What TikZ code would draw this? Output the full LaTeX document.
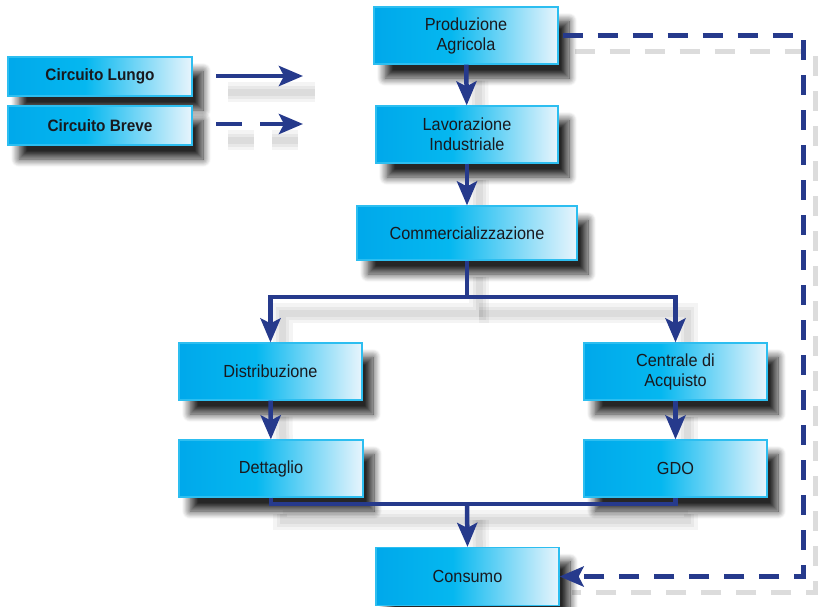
\documentclass[tikz,border=0pt]{standalone}
\usepackage{fontspec}
\setmainfont{Liberation Sans}[FakeStretch=0.93]
\usetikzlibrary{arrows.meta,shadows.blur}
\definecolor{lineblue}{RGB}{38,58,140}
\definecolor{boxedge}{RGB}{45,190,240}
\definecolor{txt}{RGB}{25,25,30}
\pgfdeclarehorizontalshading{boxshade}{100bp}{rgb(0bp)=(0,0.66,0.92); rgb(25bp)=(0,0.66,0.92); rgb(46bp)=(0.02,0.72,0.94); rgb(75bp)=(0.91,0.96,0.99); rgb(100bp)=(0.91,0.96,0.99)}
\pgfdeclarelayer{bg}
\pgfsetlayers{bg,main}
\tikzset{
  box/.style={draw=boxedge, line width=1.2pt, shading=boxshade, rectangle,
    minimum width=184pt, minimum height=57pt, inner sep=0pt, align=center,
    font=\fontsize{17.5}{20}\selectfont, text=txt,
    blur shadow={shadow xshift=11pt, shadow yshift=-14pt, shadow blur radius=8pt, shadow blur steps=10, shadow opacity=85}},
  legbox/.style={box, minimum height=39pt, font=\bfseries\fontsize{16.5}{19}\selectfont},
  conn/.style={draw=lineblue, line width=4.5pt},
  tip/.style={-{Stealth[length=24pt,width=20pt,inset=5pt]}},
  dashline/.style={line width=5pt, dash pattern=on 20pt off 15pt},
  legdash/.style={dash pattern=on 26pt off 18pt},
}
\newcommand\drawconnectors{%
  \draw[conn,tip] (prod) -- (lav);
  \draw[conn,tip] (lav) -- (comm);
  \draw[conn,tip] (comm.south) -- (split) -| (dist.north);
  \draw[conn,tip] (split) -| (cen.north);
  \draw[conn,tip] (dist) -- (det);
  \draw[conn,tip] (cen) -- (gdo);
  \draw[conn] (det.south) |- (merge) -| (gdo.south);
  \draw[conn,tip] (merge) -- (cons.north);
  \draw[conn,dashline,tip,shorten <=4pt] (prod.east) -| (fb) -- (cons.east);
  \draw[conn,tip] (l1a) -- (l1b);
  \draw[conn,legdash,tip] (l2a) -- (l2b);
}
\begin{document}
\begin{tikzpicture}[x=1pt,y=-1pt]
\useasboundingbox (0,0) rectangle (818,606);
\node[legbox] (lungo) at (100,76.5) {Circuito Lungo};
\node[legbox] (breve) at (100,125.5) {Circuito Breve};
\node[box] (prod) at (466,35.5) {Produzione\\Agricola};
\node[box, minimum width=182pt] (lav) at (467,134.5) {Lavorazione\\Industriale};
\node[box, minimum width=220pt, minimum height=54pt] (comm) at (467,233) {Commercializzazione};
\node[box, minimum width=183pt] (dist) at (270.5,371.5) {Distribuzione};
\node[box] (det) at (271,468.5) {Dettaglio};
\node[box, minimum width=183pt] (cen) at (675.5,371.5) {Centrale di\\Acquisto};
\node[box, minimum width=183pt] (gdo) at (675.5,468.5) {GDO};
\node[box, minimum width=183pt, minimum height=58pt] (cons) at (467.5,576.5) {Consumo};
\coordinate (split) at (467,297);
\coordinate (merge) at (467,504);
\coordinate (fb) at (803,576.5);
\coordinate (l1a) at (216,76);
\coordinate (l1b) at (303,76);
\coordinate (l2a) at (216,124);
\coordinate (l2b) at (303,124);
\begin{pgfonlayer}{bg}
\begin{scope}[transform canvas={shift={(12pt,-16pt)}}, tip/.style={}]
\begin{scope}[conn/.append style={draw=black, opacity=0.045, line width=20pt}]
\drawconnectors
\end{scope}
\begin{scope}[conn/.append style={draw=black, opacity=0.05, line width=13pt}]
\drawconnectors
\end{scope}
\begin{scope}[conn/.append style={draw=black, opacity=0.05, line width=7pt}]
\drawconnectors
\end{scope}
\end{scope}
\end{pgfonlayer}
\drawconnectors
\end{tikzpicture}
\end{document}
